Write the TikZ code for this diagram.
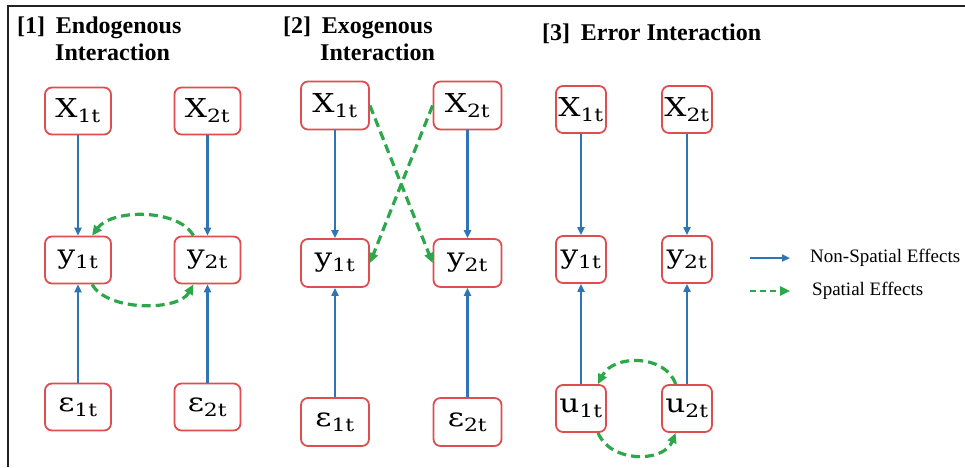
\documentclass[tikz,border=0pt]{standalone}
\usepackage{fontspec}
\setmainfont{Liberation Serif}[BoldFont={Liberation Serif Bold}]
\newfontfamily\boxfont[FakeStretch=1.2]{DejaVu Serif}
\usepackage{tikz}
\usetikzlibrary{arrows.meta}
\definecolor{boxred}{RGB}{222,78,80}
\definecolor{effblue}{RGB}{46,117,182}
\definecolor{effgreen}{RGB}{44,168,74}
\definecolor{framegray}{RGB}{34,34,34}

\begin{document}
\begin{tikzpicture}[x=1pt,y=-1pt,
    varbox/.style={draw=boxred,line width=1.8pt,rounded corners=7pt,fill=white,
        minimum height=47pt,inner sep=0pt,font=\boxfont\fontsize{26}{28}\selectfont},
    nonsp/.style={draw=effblue,line width=2.6pt,-{Triangle[length=8pt,width=7pt]}},
    spat/.style={draw=effgreen,line width=3.2pt,dash pattern=on 9pt off 5pt,
        -{Triangle[length=10pt,width=9pt]}},
    ttl/.style={anchor=base west,inner sep=0pt,font=\bfseries\fontsize{24}{28}\selectfont},
    lgd/.style={anchor=west,inner sep=0pt,font=\fontsize{19}{22}\selectfont}]
    \useasboundingbox (0,0) rectangle (965,467);
    \draw[framegray,line width=2pt] (8,467) -- (8,6) -- (965,6);

    % titles
    \node[ttl] (t1) at (17,33) {[1]\hspace{0.45em}Endogenous};
    \node[ttl] (t1b) at (55,60) {Interaction};
    \node[ttl] (t2) at (283,33) {[2]\hspace{0.45em}Exogenous};
    \node[ttl] (t2b) at (320,60) {Interaction};
    \node[ttl] (t3) at (542,40) {[3]\hspace{0.45em}Error Interaction};

    % [1]
    \node[varbox,minimum width=66pt] (p1x1) at (78,111) {X\textsubscript{1t}};
    \node[varbox,minimum width=66pt] (p1x2) at (207.5,111) {X\textsubscript{2t}};
    \node[varbox,minimum width=66pt] (p1y1) at (78,260) {y\textsubscript{1t}};
    \node[varbox,minimum width=66pt] (p1y2) at (207.5,260) {y\textsubscript{2t}};
    \node[varbox,minimum width=66pt] (p1e1) at (78,407) {ε\textsubscript{1t}};
    \node[varbox,minimum width=66pt] (p1e2) at (207.5,407) {ε\textsubscript{2t}};

    \draw[nonsp] (p1x1) -- (p1y1);
    \draw[nonsp] (p1x2) -- (p1y2);
    \draw[nonsp] (p1e1) -- (p1y1);
    \draw[nonsp] (p1e2) -- (p1y2);
    \draw[spat] (p1y2.120) .. controls +(-15,-27) and +(20,-27) .. (p1y1.60);
    \draw[spat] (p1y1.-60) .. controls +(15,27) and +(-15,27) .. (p1y2.-120);

    % [2]
    \node[varbox,minimum width=68pt,minimum height=48pt] (p2x1) at (335,105.5) {X\textsubscript{1t}};
    \node[varbox,minimum width=68pt,minimum height=48pt] (p2x2) at (467.5,105.5) {X\textsubscript{2t}};
    \node[varbox,minimum width=68pt,minimum height=48pt] (p2y1) at (335,263) {y\textsubscript{1t}};
    \node[varbox,minimum width=68pt,minimum height=48pt] (p2y2) at (467.5,263) {y\textsubscript{2t}};
    \node[varbox,minimum width=68pt,minimum height=48pt] (p2e1) at (335,422) {ε\textsubscript{1t}};
    \node[varbox,minimum width=68pt,minimum height=48pt] (p2e2) at (467.5,422) {ε\textsubscript{2t}};

    \draw[nonsp] (p2x1) -- (p2y1);
    \draw[nonsp] (p2x2) -- (p2y2);
    \draw[nonsp] (p2e1) -- (p2y1);
    \draw[nonsp] (p2e2) -- (p2y2);
    \draw[spat] (p2x1.east) -- (p2y2.west);
    \draw[spat] (p2x2.west) -- (p2y1.east);

    % [3]
    \node[varbox,minimum width=50pt] (p3x1) at (581,109.5) {X\textsubscript{1t}};
    \node[varbox,minimum width=50pt] (p3x2) at (687,109.5) {X\textsubscript{2t}};
    \node[varbox,minimum width=50pt] (p3y1) at (581,259.5) {y\textsubscript{1t}};
    \node[varbox,minimum width=50pt] (p3y2) at (687,259.5) {y\textsubscript{2t}};
    \node[varbox,minimum width=50pt] (p3u1) at (581,408.5) {u\textsubscript{1t}};
    \node[varbox,minimum width=50pt] (p3u2) at (687,408.5) {u\textsubscript{2t}};

    \draw[nonsp] (p3x1) -- (p3y1);
    \draw[nonsp] (p3x2) -- (p3y2);
    \draw[nonsp] (p3u1) -- (p3y1);
    \draw[nonsp] (p3u2) -- (p3y2);
    \draw[spat] (p3u2.115) .. controls +(-10,-30) and +(15,-30) .. (p3u1.55);
    \draw[spat] (p3u1.-55) .. controls +(12,30) and +(-12,30) .. (p3u2.-115);

    % legend
    \coordinate (lg1a) at (750,258);
    \coordinate (lg1b) at (790,258);
    \coordinate (lg2a) at (750,291);
    \coordinate (lg2b) at (790,291);
    \draw[nonsp,line width=2.2pt] (lg1a) -- (lg1b);
    \draw[spat,line width=2.4pt,dash pattern=on 6pt off 4pt] (lg2a) -- (lg2b);
    \node[lgd] (lg1) at (810,258) {Non-Spatial Effects};
    \node[lgd] (lg2) at (812,291) {Spatial Effects};
\end{tikzpicture}
\end{document}
